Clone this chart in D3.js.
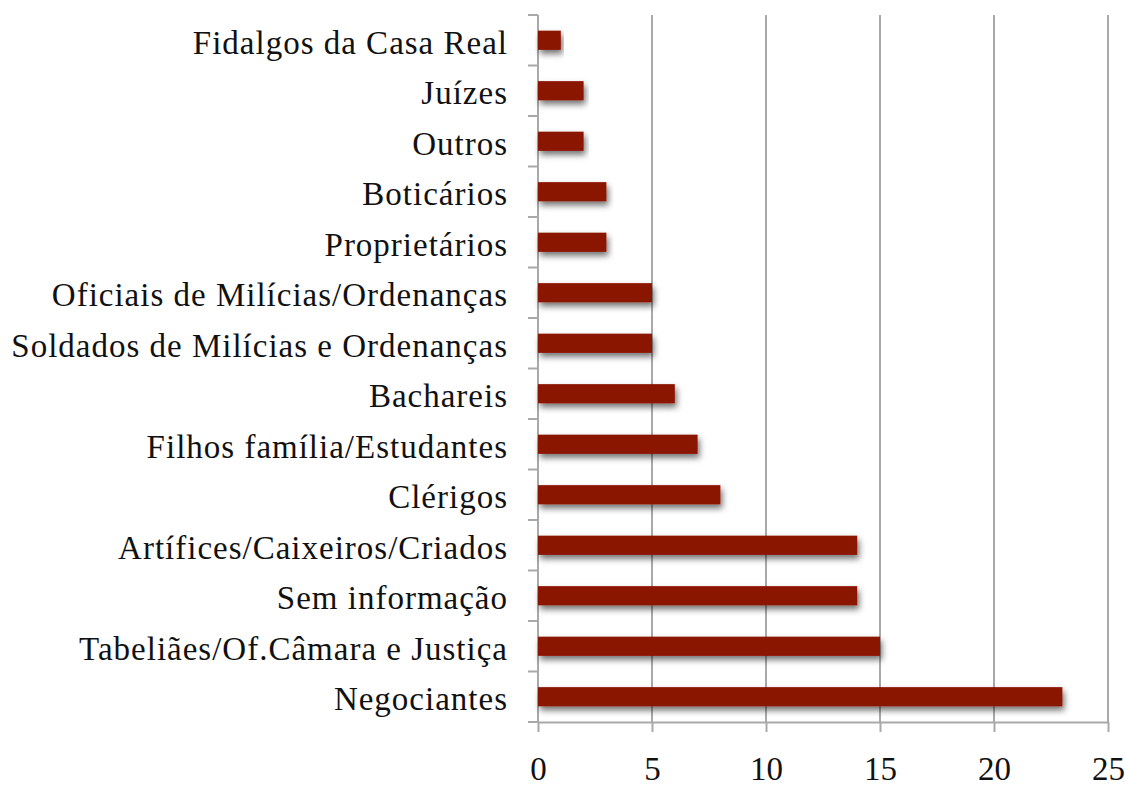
<!DOCTYPE html>
<html>
<head>
<meta charset="utf-8">
<script src="https://cdn.jsdelivr.net/npm/d3@7"></script>
<style>
  body { margin: 0; background: #fff; }
  text { font-family: "Liberation Serif", "DejaVu Serif", serif; fill: #111; }
</style>
</head>
<body>
<div id="chart"></div>
<script>
// categories, top to bottom
var categories = [
    "Fidalgos da Casa Real",
    "Juízes",
    "Outros",
    "Boticários",
    "Proprietários",
    "Oficiais de Milícias/Ordenanças",
    "Soldados de Milícias e Ordenanças",
    "Bachareis",
    "Filhos família/Estudantes",
    "Clérigos",
    "Artífices/Caixeiros/Criados",
    "Sem informação",
    "Tabeliães/Of.Câmara e Justiça",
    "Negociantes"
]
var values = [1, 2, 2, 3, 3, 5, 5, 6, 7, 8, 14, 14, 15, 23]
var xTicks = [0, 5, 10, 15, 20, 25]

var width = 1125,
    height = 787
var margin = { top: 15, right: 17, bottom: 65, left: 538 }
var innerW = width - margin.left - margin.right,
    innerH = height - margin.top - margin.bottom

var svg = d3.select("#chart")
    .append("svg")
    .attr("width", width)
    .attr("height", height)

var defs = svg.append("defs")
var shadow = defs.append("filter")
    .attr("id", "shadow")
    .attr("x", "-10%").attr("y", "-50%")
    .attr("width", "120%").attr("height", "250%")
shadow.append("feDropShadow")
    .attr("dx", 2).attr("dy", 4)
    .attr("stdDeviation", 3)
    .attr("flood-color", "#000")
    .attr("flood-opacity", 0.55)

var x_scale = d3.scaleLinear().domain([0, 25]).range([0, innerW]),
    y_scale = d3.scaleBand().domain(categories).range([0, innerH]).paddingInner(0.62).paddingOuter(0.31)

var g = svg.append("g")
    .attr("transform", "translate(" + margin.left + "," + margin.top + ")")

var axisColor = "#a9a9a9"

// vertical grid lines
g.selectAll(".grid")
    .data(xTicks.slice(1))
    .enter().append("line")
    .attr("x1", function (d) { return x_scale(d) })
    .attr("x2", function (d) { return x_scale(d) })
    .attr("y1", 0)
    .attr("y2", innerH)
    .attr("stroke", axisColor)
    .attr("stroke-width", 2)

// x axis
var xAxis = g.append("g")
    .attr("transform", "translate(0," + innerH + ")")
    .call(d3.axisBottom(x_scale).tickValues(xTicks).tickSize(10).tickSizeOuter(0).tickPadding(25))
xAxis.select(".domain").attr("stroke", axisColor).attr("stroke-width", 2)
xAxis.selectAll(".tick line").attr("stroke", axisColor).attr("stroke-width", 2)
xAxis.selectAll("text")
    .style("font-size", "33px")
    .attr("fill", "#111")
    .attr("font-family", null)

// y axis: ticks at band boundaries
var bounds = categories.map(function (d) { return y_scale(d) - y_scale.step() * y_scale.paddingInner() / 2 })
bounds.push(innerH)
g.append("line")
    .attr("x1", 0).attr("x2", 0)
    .attr("y1", 0).attr("y2", innerH)
    .attr("stroke", axisColor).attr("stroke-width", 2)
g.selectAll(".ytick")
    .data(bounds)
    .enter().append("line")
    .attr("x1", -10).attr("x2", 0)
    .attr("y1", function (d) { return d })
    .attr("y2", function (d) { return d })
    .attr("stroke", axisColor).attr("stroke-width", 2)

// category labels
g.selectAll(".label")
    .data(categories)
    .enter().append("text")
    .attr("x", -30)
    .attr("y", function (d) { return y_scale(d) + y_scale.bandwidth() / 2 })
    .attr("dy", "0.41em")
    .attr("text-anchor", "end")
    .style("font-size", "33px")
    .style("letter-spacing", "1px")
    .text(function (d) { return d })

// bars
g.selectAll(".bar")
    .data(categories)
    .enter().append("rect")
    .attr("class", "bar")
    .attr("x", 0)
    .attr("y", function (d) { return y_scale(d) })
    .attr("height", y_scale.bandwidth())
    .attr("width", function (d, i) { return x_scale(values[i]) })
    .attr("fill", "#8b1200")
    .attr("filter", "url(#shadow)")
</script>
</body>
</html>
